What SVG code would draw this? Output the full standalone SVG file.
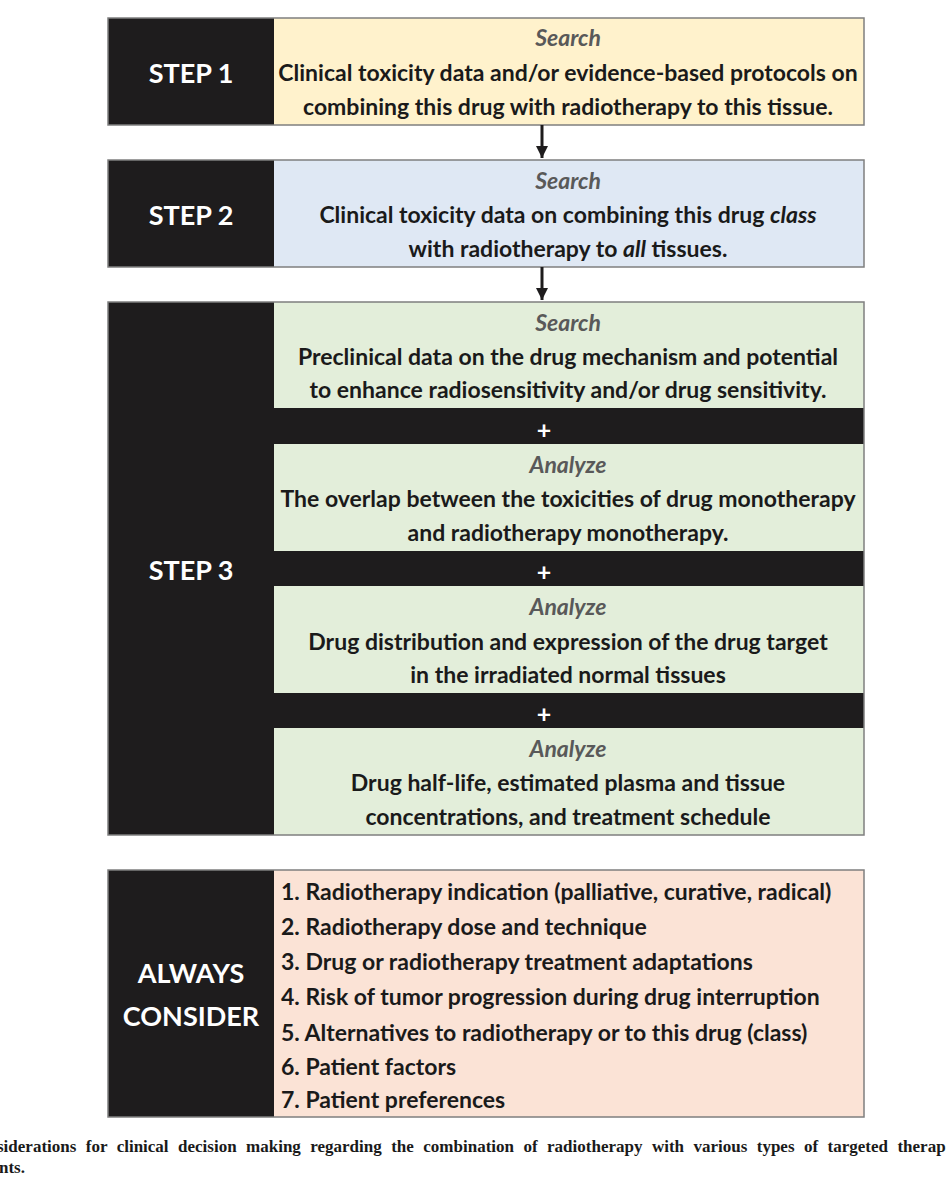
<svg xmlns="http://www.w3.org/2000/svg" width="950" height="1200" viewBox="0 0 950 1200">
<defs>
<style>
.blk{fill:#1e1c1d}
.frame{fill:none;stroke:#7f7f7f;stroke-width:1.5}
.y{fill:#fff2cc}
.b{fill:#dfe8f4}
.g{fill:#e3eeda}
.p{fill:#fbe3d6}
.step{font-family:Lato,"Open Sans",sans-serif;font-weight:700;font-size:27px;fill:#ffffff;text-anchor:middle}
.hd{font-family:Lato,"Open Sans",sans-serif;font-weight:700;font-style:italic;font-size:23px;fill:#595959;text-anchor:middle}
.tx{font-family:Lato,"Open Sans",sans-serif;font-weight:700;font-size:23px;fill:#1a1a1a;text-anchor:middle}
.it{font-style:italic}
.li{font-family:Lato,"Open Sans",sans-serif;font-weight:700;font-size:23px;fill:#1a1a1a}
.plus{font-family:Lato,"Open Sans",sans-serif;font-weight:700;font-size:25px;fill:#ffffff;text-anchor:middle}
.cap{font-family:"Liberation Serif",serif;font-weight:700;font-size:17px;fill:#1a1a1a}
.arr{stroke:#1e1c1d;stroke-width:3;fill:none}
</style>
<marker id="ah" viewBox="0 0 10 10" refX="10" refY="5" markerWidth="4" markerHeight="4" orient="auto" markerUnits="strokeWidth">
<path d="M0,0 L10,5 L0,10 z" fill="#1e1c1d"/>
</marker>
</defs>
<rect width="950" height="1200" fill="#ffffff"/>

<g id="step1">
<rect class="blk" x="108" y="18" width="166" height="107"/>
<rect class="y" x="274" y="18" width="590" height="107"/>
<rect class="frame" x="108" y="18" width="756" height="107"/>
<text class="step" x="191" y="83">STEP 1</text>
<text class="hd" x="568" y="46">Search</text>
<text class="tx" x="568" y="81">Clinical toxicity data and/or evidence-based protocols on</text>
<text class="tx" x="568" y="115">combining this drug with radiotherapy to this tissue.</text>
</g>

<g id="step2">
<rect class="blk" x="108" y="160" width="166" height="107"/>
<rect class="b" x="274" y="160" width="590" height="107"/>
<rect class="frame" x="108" y="160" width="756" height="107"/>
<text class="step" x="191" y="225">STEP 2</text>
<text class="hd" x="568" y="189">Search</text>
<text class="tx" x="568" y="223">Clinical toxicity data on combining this drug <tspan class="it">class</tspan></text>
<text class="tx" x="568" y="257">with radiotherapy to <tspan class="it">all</tspan>  tissues.</text>
</g>

<g id="step3">
<rect class="blk" x="108" y="302" width="756" height="533"/>
<rect class="g" x="274" y="302" width="590" height="106"/>
<rect class="g" x="274" y="444" width="590" height="107"/>
<rect class="g" x="274" y="586" width="590" height="107"/>
<rect class="g" x="274" y="728" width="590" height="107"/>
<rect class="frame" x="108" y="302" width="756" height="533"/>
<text class="step" x="191" y="580">STEP 3</text>
<text class="hd" x="568" y="331">Search</text>
<text class="tx" x="568" y="365">Preclinical data on the drug mechanism and potential</text>
<text class="tx" x="568" y="398">to enhance radiosensitivity and/or drug sensitivity.</text>
<text class="plus" x="544" y="439">+</text>
<text class="hd" x="568" y="473">Analyze</text>
<text class="tx" x="568" y="507">The overlap between the toxicities of drug monotherapy</text>
<text class="tx" x="568" y="541">and radiotherapy monotherapy.</text>
<text class="plus" x="544" y="581">+</text>
<text class="hd" x="568" y="615">Analyze</text>
<text class="tx" x="568" y="650">Drug distribution and expression of the drug target</text>
<text class="tx" x="568" y="683">in the irradiated normal tissues</text>
<text class="plus" x="544" y="723">+</text>
<text class="hd" x="568" y="757">Analyze</text>
<text class="tx" x="568" y="791">Drug half-life, estimated plasma and tissue</text>
<text class="tx" x="568" y="825">concentrations, and treatment schedule</text>
</g>

<g id="always">
<rect class="blk" x="108" y="870" width="166" height="247"/>
<rect class="p" x="274" y="870" width="590" height="247"/>
<rect class="frame" x="108" y="870" width="756" height="247"/>
<text class="step" x="191" y="983">ALWAYS</text>
<text class="step" x="191" y="1026">CONSIDER</text>
<text class="li" x="281" y="900">1. Radiotherapy indication (palliative, curative, radical)</text>
<text class="li" x="281" y="935">2. Radiotherapy dose and technique</text>
<text class="li" x="281" y="970">3. Drug or radiotherapy treatment adaptations</text>
<text class="li" x="281" y="1005">4. Risk of tumor progression during drug interruption</text>
<text class="li" x="281" y="1041">5. Alternatives to radiotherapy or to this drug (class)</text>
<text class="li" x="281" y="1075">6. Patient factors</text>
<text class="li" x="281" y="1108">7. Patient preferences</text>
</g>

<g id="connectors">
<line class="arr" x1="542" y1="125" x2="542" y2="158" marker-end="url(#ah)"/>
<line class="arr" x1="542" y1="267" x2="542" y2="300" marker-end="url(#ah)"/>
</g>

<g id="caption">
<text class="cap" x="-3" y="1152" word-spacing="5.2">siderations for clinical decision making regarding the combination of radiotherapy with various types of targeted therap</text>
<text class="cap" x="-1" y="1173">nts.</text>
</g>
</svg>
